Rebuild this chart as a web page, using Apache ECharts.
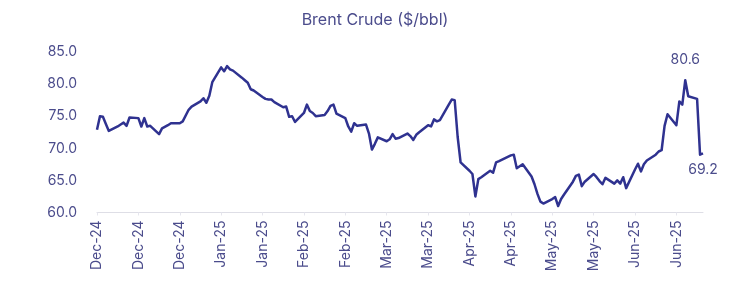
<!DOCTYPE html>
<html>
<head>
<meta charset="utf-8">
<script src="https://cdn.jsdelivr.net/npm/echarts@6/dist/echarts.min.js"></script>
<style>
html,body{margin:0;padding:0;background:#fff;}
#chart{width:750px;height:289px;}
</style>
</head>
<body>
<div id="chart"></div>
<script>
const titleText = 'Brent Crude ($/bbl)';
const dates = [
'2024-12-02','2024-12-03','2024-12-04','2024-12-05','2024-12-06',
'2024-12-09','2024-12-10','2024-12-11','2024-12-12','2024-12-13',
'2024-12-16','2024-12-17','2024-12-18','2024-12-19','2024-12-20',
'2024-12-23','2024-12-24','2024-12-26','2024-12-27',
'2024-12-30','2024-12-31','2025-01-02','2025-01-03',
'2025-01-06','2025-01-07','2025-01-08','2025-01-09','2025-01-10',
'2025-01-13','2025-01-14','2025-01-15','2025-01-16','2025-01-17',
'2025-01-20','2025-01-21','2025-01-22','2025-01-23','2025-01-24',
'2025-01-27','2025-01-28','2025-01-29','2025-01-30','2025-01-31',
'2025-02-03','2025-02-04','2025-02-05','2025-02-06','2025-02-07',
'2025-02-10','2025-02-11','2025-02-12','2025-02-13','2025-02-14',
'2025-02-17','2025-02-18','2025-02-19','2025-02-20','2025-02-21',
'2025-02-24','2025-02-25','2025-02-26','2025-02-27','2025-02-28',
'2025-03-03','2025-03-04','2025-03-05','2025-03-06','2025-03-07',
'2025-03-10','2025-03-11','2025-03-12','2025-03-13','2025-03-14',
'2025-03-17','2025-03-18','2025-03-19','2025-03-20','2025-03-21',
'2025-03-24','2025-03-25','2025-03-26','2025-03-27','2025-03-28',
'2025-03-31','2025-04-01','2025-04-02','2025-04-03','2025-04-04',
'2025-04-07','2025-04-08','2025-04-09','2025-04-10','2025-04-11',
'2025-04-14','2025-04-15','2025-04-16','2025-04-17',
'2025-04-21','2025-04-22','2025-04-23','2025-04-24','2025-04-25',
'2025-04-28','2025-04-29','2025-04-30','2025-05-01','2025-05-02',
'2025-05-05','2025-05-06','2025-05-07','2025-05-08','2025-05-09',
'2025-05-12','2025-05-13','2025-05-14','2025-05-15','2025-05-16',
'2025-05-19','2025-05-20','2025-05-21','2025-05-22','2025-05-23',
'2025-05-26','2025-05-27','2025-05-28','2025-05-29','2025-05-30',
'2025-06-02','2025-06-03','2025-06-04','2025-06-05','2025-06-06',
'2025-06-09','2025-06-10','2025-06-11','2025-06-12','2025-06-13',
'2025-06-16','2025-06-17','2025-06-18','2025-06-19','2025-06-20',
'2025-06-23','2025-06-24','2025-06-25'
];
const prices = [
72.9,75.0,74.9,73.8,72.7,
73.4,73.7,74.0,73.5,74.8,
74.7,73.4,74.7,73.4,73.5,
72.2,73.1,73.6,73.9,
73.9,74.2,76.0,76.5,
77.3,77.8,77.1,78.2,80.3,
82.6,82.0,82.8,82.3,82.1,
81.0,80.6,80.2,79.2,79.0,
78.0,77.7,77.6,77.6,77.2,
76.4,76.5,74.9,75.0,74.1,
75.5,76.8,75.8,75.5,75.0,
75.2,75.8,76.6,76.8,75.4,
74.7,73.4,72.6,73.9,73.5,
73.7,72.3,69.8,70.7,71.7,
71.1,71.4,72.2,71.5,71.6,
72.3,71.9,71.3,72.1,72.5,
73.6,73.4,74.5,74.2,74.4,
76.8,77.6,77.5,71.8,67.8,
66.5,66.0,62.5,65.2,65.5,
66.5,66.2,67.8,68.0,
68.9,69.0,66.9,67.2,67.5,
65.6,64.4,62.9,61.7,61.4,
62.1,62.4,61.0,62.1,62.8,
64.8,65.7,65.9,64.1,64.8,
66.0,65.5,64.9,64.4,65.4,
64.5,65.0,64.5,65.5,63.8,
66.7,67.6,66.4,67.5,68.1,
69.0,69.5,69.7,73.5,75.3,
73.6,77.3,76.8,80.6,78.1,
77.7,69.0,69.2
];
const tickLabels = ['Dec-24','Dec-24','Dec-24','Jan-25','Jan-25','Feb-25','Feb-25','Mar-25','Mar-25','Apr-25','Apr-25','May-25','May-25','Jun-25','Jun-25'];
const calloutDates = ['2025-06-19', '2025-06-25'];
const calloutPositions = ['top', 'bottom'];
const yMin = 60, yMax = 85, yStep = 5;
const xStepDays = 14;

const DAY = 86400000;
const t0 = Date.parse(dates[0]);
const dayOffsets = dates.map(d => Math.round((Date.parse(d) - t0) / DAY));
const lastDay = dayOffsets[dayOffsets.length - 1];

const textColor = '#4b4c8c';
const lineColor = '#2f3290';
const fontFamily = 'Inter, "Open Sans", sans-serif';

const seriesData = prices.map((v, i) => [dayOffsets[i], v]);
const calloutData = calloutDates.map((d, k) => {
  const idx = dates.indexOf(d);
  return { coord: seriesData[idx], value: prices[idx], pos: calloutPositions[k] };
});

const chart = echarts.init(document.getElementById('chart'), null, { renderer: 'canvas' });
chart.setOption({
  animation: false,
  backgroundColor: '#ffffff',
  title: {
    text: titleText,
    left: 'center',
    top: 7,
    textStyle: { color: textColor, fontSize: 16, fontWeight: 'normal', fontFamily: fontFamily }
  },
  grid: { left: 97, right: 47, top: 52, bottom: 76.5, containLabel: false },
  xAxis: {
    type: 'value',
    min: 0,
    max: lastDay,
    interval: xStepDays,
    splitLine: { show: false },
    axisLine: { show: true, lineStyle: { color: '#dedee6', width: 1 } },
    axisTick: { show: true, length: 3, lineStyle: { color: '#e6e6ee' } },
    axisLabel: {
      rotate: 90,
      margin: 8,
      color: textColor,
      fontSize: 14,
      fontFamily: fontFamily,
      showMaxLabel: false,
      formatter: function (v) {
        if (v % xStepDays !== 0) return '';
        const k = v / xStepDays;
        return tickLabels[k] || '';
      }
    }
  },
  yAxis: {
    type: 'value',
    min: yMin,
    max: yMax,
    interval: yStep,
    splitLine: { show: false },
    axisLine: { show: false },
    axisTick: { show: false },
    axisLabel: {
      margin: 20,
      color: textColor,
      fontSize: 14,
      fontFamily: fontFamily,
      formatter: v => v.toFixed(1)
    }
  },
  series: [{
    type: 'line',
    data: seriesData,
    showSymbol: false,
    symbol: 'none',
    lineStyle: { color: lineColor, width: 2.5, join: 'round' },
    itemStyle: { color: lineColor },
    markPoint: {
      symbol: 'circle',
      symbolSize: 0,
      silent: true,
      data: calloutData.map(c => ({
        coord: c.coord,
        value: c.value,
        label: {
          show: true,
          position: c.pos,
          distance: c.pos === 'top' ? 13 : 9,
          color: textColor,
          fontSize: 14,
          fontFamily: fontFamily,
          formatter: p => Number(p.value).toFixed(1)
        }
      }))
    },
    z: 3
  }]
});
</script>
</body>
</html>
